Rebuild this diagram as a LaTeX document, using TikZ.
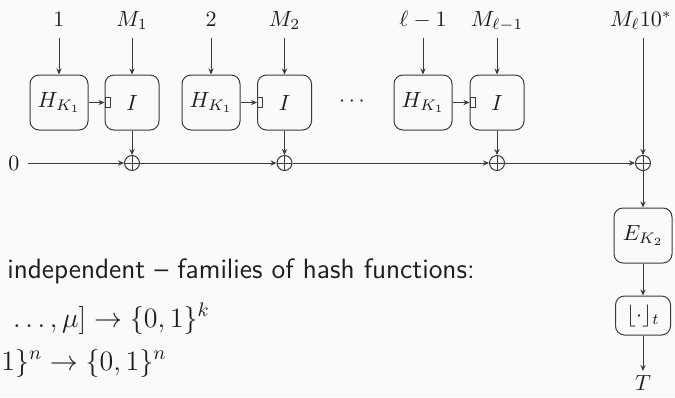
\documentclass[tikz,border=0pt]{standalone}
\usepackage{fix-cm}
\usetikzlibrary{arrows.meta}
\definecolor{bg}{HTML}{FAFAFA}
\definecolor{ink}{HTML}{1E1E1E}
\definecolor{wire}{HTML}{3A3A3A}
\begin{document}
\begin{tikzpicture}[x=0.5pt,y=-0.5pt,
  every node/.style={text=ink, font=\fontsize{11}{13}\selectfont},
  arr/.style={draw=wire, line width=0.5pt, -{Stealth[length=3pt,width=2.6pt]}},
  blk/.style={draw=wire, line width=0.5pt, rounded corners=4.5pt, minimum width=29pt, minimum height=27.5pt, inner sep=0pt},
  iblk/.style={blk, minimum width=27pt},
  tick/.style={draw=wire, line width=0.45pt, minimum width=2.6pt, minimum height=5pt, inner sep=0pt, anchor=west},
  lbl/.style={anchor=base, inner sep=0pt},
  xo/.style={circle, draw=wire, line width=0.5pt, minimum size=7.5pt, inner sep=0pt,
    path picture={\draw[wire, line width=0.5pt] (path picture bounding box.north) -- (path picture bounding box.south) (path picture bounding box.west) -- (path picture bounding box.east);}},
  body/.style={inner sep=0pt, font=\sffamily\fontsize{14}{17}\selectfont},
  mbody/.style={inner sep=0pt, font=\fontsize{14}{17}\selectfont}
]
\fill[bg] (0,0) rectangle (675,397);
\useasboundingbox (0,0) rectangle (675,397);
\clip (0,0) rectangle (675,397);

% top labels
\node[lbl] (l1) at (59,26) {$1$};
\node[lbl] (m1) at (132,26) {$M_1$};
\node[lbl] (l2) at (211,26) {$2$};
\node[lbl] (m2) at (284.5,26) {$M_2$};
\node[lbl] (l3) at (423,26) {$\ell-1$};
\node[lbl] (m3) at (497,26) {$M_{\ell-1}$};
\node[lbl] (m4) at (641,26) {$M_\ell 10^*$};

% boxes
\node[blk] (h1) at (59,102.5) {$H_{K_1}$};
\node[iblk] (i1) at (132,102.5) {$I$};
\node[blk] (h2) at (211,102.5) {$H_{K_1}$};
\node[iblk] (i2) at (284.5,102.5) {$I$};
\node (dots) at (352,102) {$\cdots$};
\node[blk] (h3) at (423,102.5) {$H_{K_1}$};
\node[iblk] (i3) at (497,102.5) {$I$};

\node[tick] (s1) at (i1.west) {};
\node[tick] (s2) at (i2.west) {};
\node[tick] (s3) at (i3.west) {};

% xors
\node (zero) at (14,163) {$0$};
\node[xo] (x1) at (132,163) {};
\node[xo] (x2) at (284.5,163) {};
\node[xo] (x3) at (497,163) {};
\node[xo] (x4) at (643,163) {};

% right column
\node[blk] (E) at (643,235.5) {$E_{K_2}$};
\node[blk, minimum width=27.5pt, minimum height=19.5pt] (F) at (643,315.5) {$\lfloor\cdot\rfloor_t$};
\node[lbl, inner sep=2pt, anchor=north] (T) at (643,371) {$T$};

% arrows
\foreach \a/\b in {l1/h1, m1/i1, l2/h2, m2/i2, l3/h3, m3/i3}
  \draw[arr] ([yshift=-6pt]\a.base) -- (\b.north);
\draw[arr] ([yshift=-6pt]x4.center |- m4.base) -- (x4.north);
\foreach \a/\b in {h1/s1, h2/s2, h3/s3}
  \draw[arr] (\a.east) -- (\b.west);
\foreach \a/\b in {i1/x1, i2/x2, i3/x3}
  \draw[arr] (\a.south) -- (\b.north);
\draw[arr] ([xshift=7pt]zero.center) -- (x1.west);
\draw[arr] (x1.east) -- (x2.west);
\draw[arr] (x2.east) -- (x3.west);
\draw[arr] (x3.east) -- (x4.west);
\draw[arr] (x4.south) -- (E.north);
\draw[arr] (E.south) -- (F.north);
\draw[arr] (F.south) -- (T.north);

% text
\node[body, anchor=base west] (t1) at (7,278) {independent -- families of hash functions:};
\node[mbody, anchor=base east] (t2) at (210,327) {$\dots,\mu]\to\{0,1\}^k$};
\node[mbody, anchor=base east] (t3) at (167,370) {$\{0,1\}^n\to\{0,1\}^n$};
\end{tikzpicture}
\end{document}
